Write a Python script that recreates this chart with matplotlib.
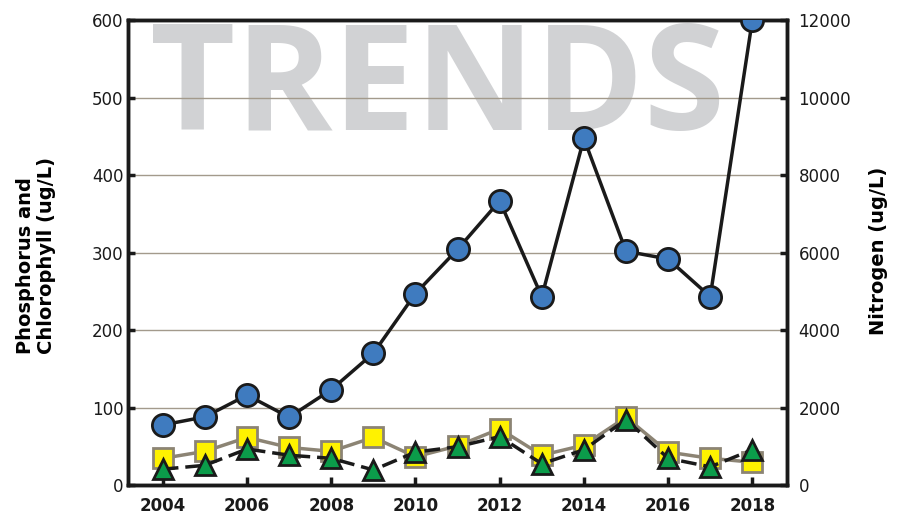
import matplotlib.pyplot as plt
import numpy as np

# values
years = list(range(2004, 2019))
nitrogen = [1560, 1770, 2330, 1760, 2470, 3410, 4950, 6090, 7340, 4870, 8950, 6040, 5840, 4870, 12000]
phosphorus = [35, 44, 62, 49, 44, 62, 37, 51, 73, 39, 52, 88, 43, 35, 30]
chlorophyll = [21, 26, 47, 39, 35, 20, 43, 50, 63, 28, 46, 85, 35, 24, 46]
xtick_years = [2004, 2006, 2008, 2010, 2012, 2014, 2016, 2018]
left_ticks = [0, 100, 200, 300, 400, 500, 600]
right_ticks = [0, 2000, 4000, 6000, 8000, 10000, 12000]

plt.rcParams['font.family'] = ['DejaVu Sans']

fig = plt.figure(figsize=(9.07, 5.17), dpi=100)
ax1 = fig.add_axes([0.141, 0.061, 0.727, 0.9])
ax2 = ax1.twinx()

# big watermark behind everything
ax1.text(0.033, 0.763, 'TRENDS', transform=ax1.transAxes, fontsize=106,
         fontweight='bold', family='Open Sans', color='#d1d2d4',
         ha='left', va='baseline', zorder=0)

# grid lines
for v in left_ticks[1:-1]:
    ax1.axhline(v, color='#a39a8c', lw=1.0, zorder=1)

ax1.plot(years, phosphorus, color='#8c8474', lw=2.5, marker='s', ms=14,
         mfc='#fff200', mec='#8c8474', mew=2, zorder=3)
ax1.plot(years, chlorophyll, color='#1a1a1a', lw=2.5, ls=(0, (4.5, 2)),
         marker='^', ms=15, mfc='#0b9c4a', mec='#1a1a1a', mew=2, zorder=4)
ax2.plot(years, nitrogen, color='#1a1a1a', lw=2.5, marker='o', ms=16,
         mfc='#3f7bbf', mec='#1a1a1a', mew=2, zorder=5)

ax1.set_xlim(2003.17, 2018.83)
ax1.set_ylim(0, 600)
ax2.set_ylim(0, 12000)

ax1.set_xticks(xtick_years)
ax1.set_xticklabels([str(y) for y in xtick_years], fontweight='bold', fontsize=12)
ax1.set_yticks(left_ticks)
ax1.set_yticklabels([str(v) for v in left_ticks], fontsize=12)
ax2.set_yticks(right_ticks)
ax2.set_yticklabels([str(v) for v in right_ticks], fontsize=12)

ax1.tick_params(axis='x', direction='in', length=6, width=2.5, pad=8, colors='#1a1a1a')
ax1.tick_params(axis='y', direction='in', length=5, width=2.5, pad=3, colors='#1a1a1a')
ax2.tick_params(axis='y', direction='in', length=5, width=2.5, pad=8, colors='#1a1a1a')

for ax in (ax1, ax2):
    for s in ax.spines.values():
        s.set_linewidth(2.5)
        s.set_color('#1a1a1a')

fig.text(36 / 907, 1 - 256 / 517, 'Phosphorus and\nChlorophyll (ug/L)', fontsize=14,
         fontweight='bold', rotation=90, ha='center', va='center',
         multialignment='left', linespacing=1.1)
fig.text(878 / 907, 1 - 251 / 517, 'Nitrogen (ug/L)', fontsize=14,
         fontweight='bold', rotation=90, ha='center', va='center')

fig.savefig('out.png', dpi=100)
